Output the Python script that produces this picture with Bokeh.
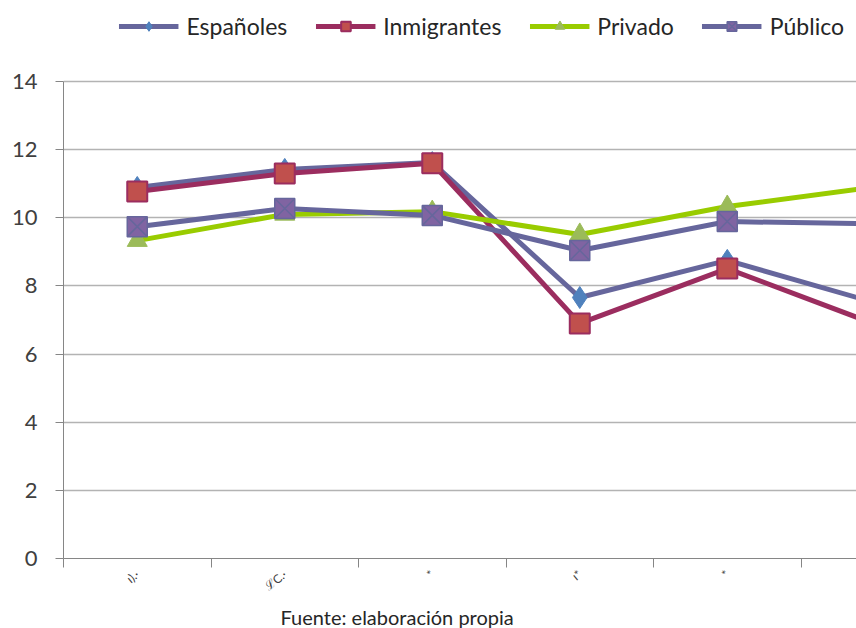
from bokeh.plotting import figure
from bokeh.models import Range1d, FixedTicker, Legend, LegendItem, Title
from bokeh.embed import file_html
from bokeh.resources import INLINE

categories = ["\u0131).\u00b7", "\u2112C.\u00b7", "*", "\u0131*", "*", ""]
espanoles = [10.89, 11.42, 11.62, 7.66, 8.75, 7.51]
inmigrantes = [10.77, 11.30, 11.60, 6.90, 8.51, 6.88]
privado = [9.33, 10.10, 10.18, 9.51, 10.33, 10.90]
publico = [9.74, 10.27, 10.07, 9.04, 9.89, 9.82]
y_ticks = [0, 2, 4, 6, 8, 10, 12, 14]

FONT = "Lato"
xs = list(range(len(categories)))

# frame spans from canvas top to y=558; value 14 should sit at y=81
FRAME_H = 558
TOP_GAP = 81
y_end = 14 * FRAME_H / (FRAME_H - TOP_GAP)

p = figure(width=856, height=628, x_range=Range1d(-0.5, 4.876), y_range=Range1d(0, y_end),
           output_backend="svg", toolbar_location=None,
           min_border_left=63, min_border_right=0, min_border_top=0, min_border_bottom=70)
p.outline_line_color = None
p.background_fill_color = "white"

# axes
p.xaxis.ticker = FixedTicker(ticks=xs, minor_ticks=[i - 0.5 for i in range(len(categories) + 1)])
p.xaxis.major_label_overrides = {i: c for i, c in enumerate(categories)}
p.xaxis.major_tick_line_color = None
p.xaxis.minor_tick_in = 0
p.xaxis.minor_tick_out = 9
p.xaxis.minor_tick_line_color = "#868686"
p.xaxis.axis_line_color = "#868686"
p.xaxis.major_label_orientation = 0.7
p.xaxis.major_label_text_font = FONT
p.xaxis.major_label_text_font_size = "12px"
p.xaxis.major_label_text_color = "#404040"
p.xaxis.major_label_standoff = 5

p.yaxis.ticker = FixedTicker(ticks=y_ticks)
p.yaxis.bounds = (0, 14)
p.yaxis.minor_tick_line_color = None
p.yaxis.major_tick_in = 0
p.yaxis.major_tick_out = 8
p.yaxis.major_tick_line_color = "#868686"
p.yaxis.axis_line_color = "#868686"
p.yaxis.major_label_text_font = FONT
p.yaxis.major_label_text_font_size = "22px"
p.yaxis.major_label_text_color = "#404040"
p.yaxis.major_label_standoff = 18

p.xgrid.grid_line_color = None
p.ygrid.ticker = FixedTicker(ticks=y_ticks)
p.ygrid.grid_line_color = "#b3b3b3"
p.ygrid.grid_line_width = 1.5

items = []
r1 = p.line(xs, espanoles, line_color="#66669C", line_width=5)
m1 = p.scatter(xs, espanoles, marker="diamond", size=22, fill_color="#4F81BD", line_color="#4F81BD")
items.append(LegendItem(label="Españoles", renderers=[r1, m1]))
r2 = p.line(xs, inmigrantes, line_color="#9B2D5F", line_width=5)
m2 = p.scatter(xs, inmigrantes, marker="square", size=20, fill_color="#C0504D", line_color="#9B2D5F", line_width=2)
items.append(LegendItem(label="Inmigrantes", renderers=[r2, m2]))
r3 = p.line(xs, privado, line_color="#99CC00", line_width=5)
m3 = p.scatter(xs, privado, marker="triangle", size=20, fill_color="#9BBB59", line_color="#9BBB59")
items.append(LegendItem(label="Privado", renderers=[r3, m3]))
r4 = p.line(xs, publico, line_color="#66669C", line_width=5)
m4 = p.scatter(xs, publico, marker="square_x", size=20, fill_color="#8064A2", line_color="#66669C", line_width=1.5)
items.append(LegendItem(label="Público", renderers=[r4, m4]))

legend = Legend(items=items, orientation="horizontal", location="top_right",
                glyph_width=60, glyph_height=24, label_text_font=FONT,
                label_text_font_size="23px", label_text_color="#262626",
                spacing=28, label_standoff=8, border_line_color=None,
                background_fill_alpha=0, padding=2, margin=12)
p.add_layout(legend, "center")

cap = Title(text="Fuente: elaboración propia", align="left", offset=217,
            text_font=FONT, text_font_size="20px", text_font_style="normal",
            text_color="#262626", standoff=0)
p.add_layout(cap, "below")

open("out.html", "w").write(file_html(p, INLINE))
